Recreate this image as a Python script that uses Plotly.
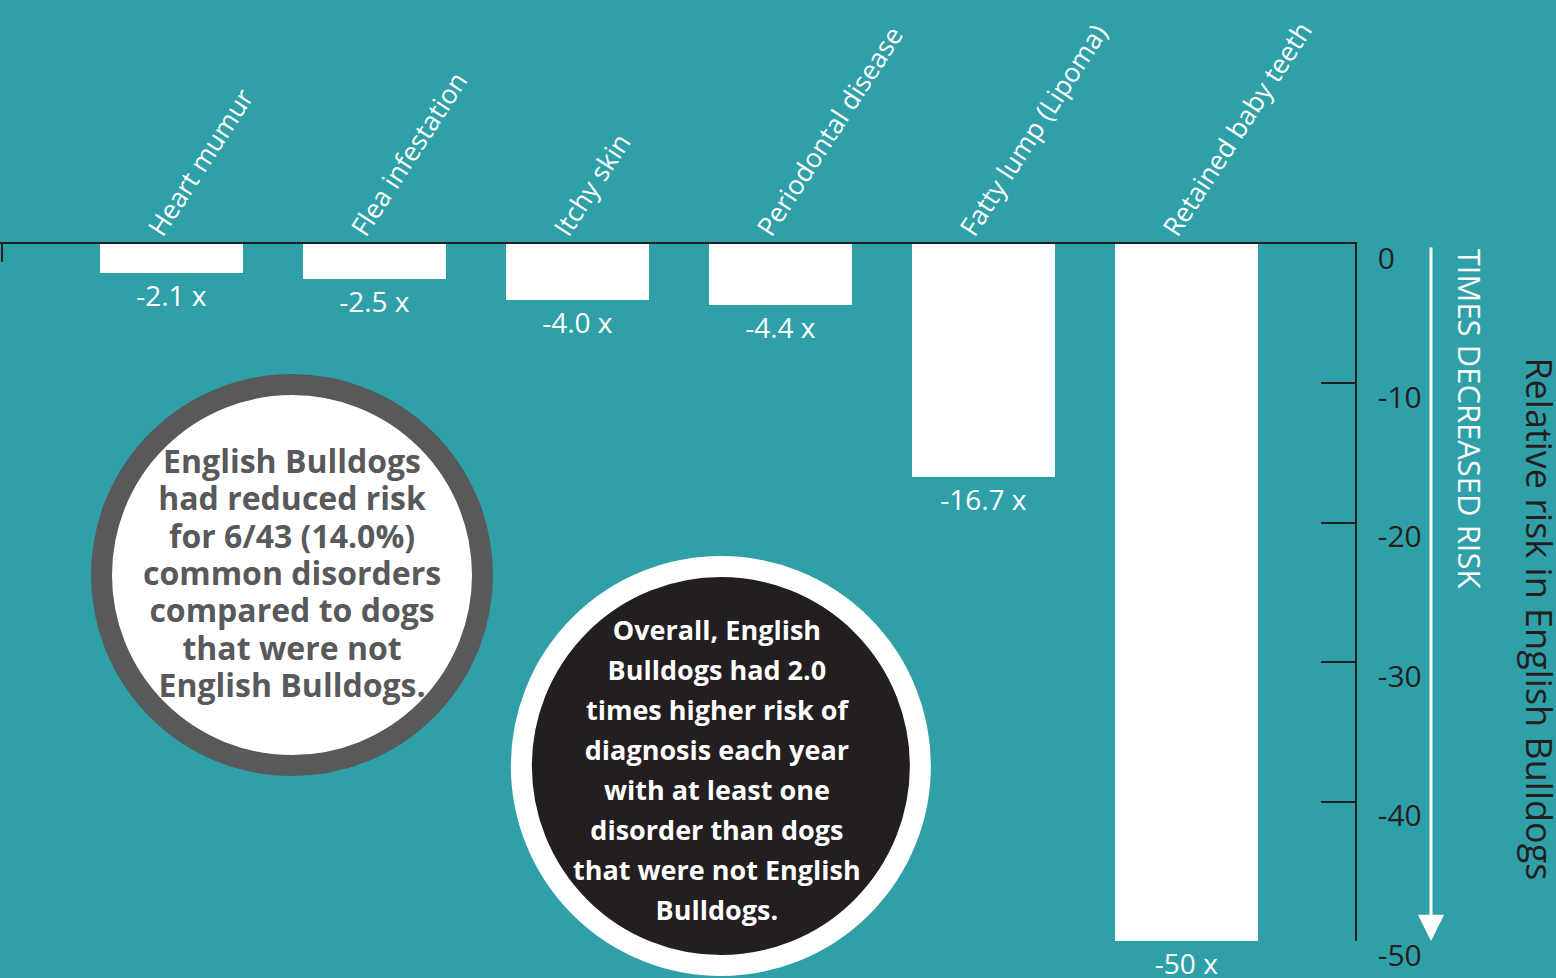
import plotly.graph_objects as go

categories = ["Heart mumur", "Flea infestation", "Itchy skin",
              "Periodontal disease", "Fatty lump (Lipoma)", "Retained baby teeth"]
positions = [0, 1, 2, 3, 4, 5]
values = [-2.1, -2.5, -4.0, -4.4, -16.7, -50]
value_labels = ["-2.1 x", "-2.5 x", "-4.0 x", "-4.4 x", "-16.7 x", "-50 x"]
y_ticks = [0, -10, -20, -30, -40, -50]
y_ticktext = ["0", "-10", "-20", "-30", "-40", "-50"]

BG = "#2FA0A8"
DARK = "#231F20"
GREY = "#58595B"
FONT = "Open Sans"

fig = go.Figure()
fig.add_trace(go.Bar(
    x=positions, y=values, width=0.704,
    marker=dict(color="white", line=dict(width=0)),
    text=value_labels, textposition="outside",
    textfont=dict(color="white", size=28, family=FONT),
    cliponaxis=False, hoverinfo="skip",
))

circle1_lines = ["English Bulldogs", "had reduced risk", "for 6/43 (14.0%)",
                 "common disorders", "compared to dogs", "that were not",
                 "English Bulldogs."]
circle2_lines = ["Overall, English", "Bulldogs had 2.0", "times higher risk of",
                 "diagnosis each year", "with at least one", "disorder than dogs",
                 "that were not English", "Bulldogs."]

def lines_html(lines, px):
    return "<br>".join('<span style="font-size:%dpx"><b>%s</b></span>' % (px, l) for l in lines)

shapes = [
    dict(type="circle", xref="paper", yref="paper", xsizemode="pixel", ysizemode="pixel",
         xanchor=0.2155, yanchor=0.525, x0=-190.5, x1=190.5, y0=-190.5, y1=190.5,
         fillcolor="white", line=dict(color=GREY, width=21), layer="above"),
    dict(type="circle", xref="paper", yref="paper", xsizemode="pixel", ysizemode="pixel",
         xanchor=0.532, yanchor=0.251, x0=-199.5, x1=199.5, y0=-199.5, y1=199.5,
         fillcolor=DARK, line=dict(color="white", width=21), layer="above"),
    dict(type="line", xref="paper", yref="paper", ysizemode="pixel",
         x0=0.0015, x1=0.0015, yanchor=1, y0=0, y1=-18,
         line=dict(color=DARK, width=2)),
]

annotations = [
    dict(xref="paper", yref="paper", x=0.2155, y=0.5293, showarrow=False,
         text=lines_html(circle1_lines, 32), font=dict(family=FONT, size=28.7, color=GREY),
         xanchor="center", yanchor="middle", align="center"),
    dict(xref="paper", yref="paper", x=0.529, y=0.2455, showarrow=False,
         text=lines_html(circle2_lines, 27), font=dict(family=FONT, size=30.8, color="white"),
         xanchor="center", yanchor="middle", align="center"),
    dict(xref="paper", yref="paper", x=1.085, y=0.749, showarrow=False,
         text="TIMES DECREASED RISK", textangle=90,
         font=dict(family=FONT, size=31, color="white"),
         xanchor="center", yanchor="middle"),
    dict(xref="paper", yref="paper", x=1.1355, y=0.462, showarrow=False,
         text="Relative risk in English Bulldogs", textangle=90,
         font=dict(family=FONT, size=36, color=DARK),
         xanchor="center", yanchor="middle"),
    dict(xref="paper", yref="paper", x=1431 / 1355, y=0.0, text="",
         showarrow=True, axref="pixel", ayref="pixel", ax=0, ay=-695,
         arrowhead=2, arrowsize=1.75, arrowwidth=3, arrowcolor="white"),
]

fig.update_layout(
    width=1556, height=978,
    margin=dict(l=0, r=201, t=244, b=37),
    paper_bgcolor=BG, plot_bgcolor=BG,
    showlegend=False, bargap=0,
    font=dict(family=FONT),
    shapes=shapes, annotations=annotations,
    xaxis=dict(range=[-0.845, 5.83], side="top", tickvals=positions, ticktext=categories,
               tickangle=-57, tickfont=dict(color="white", size=26.5, family=FONT),
               ticklabelshift=-20, ticklabelstandoff=-13,
               showline=True, linecolor=DARK, linewidth=2, ticks="",
               showgrid=False, zeroline=False, fixedrange=True),
    yaxis=dict(range=[-50, 0], side="right", tickvals=y_ticks, ticktext=y_ticktext,
               ticks="inside", ticklen=34, tickwidth=1.5, tickcolor=DARK,
               showline=True, linecolor=DARK, linewidth=1.5,
               tickfont=dict(color=DARK, size=30, family=FONT),
               ticklabelstandoff=15, ticklabelshift=14,
               showgrid=False, zeroline=False, fixedrange=True),
)

fig.write_html("out.html", config={"displayModeBar": False},
               post_script="document.body.style.margin='0';document.body.style.overflow='hidden';")
